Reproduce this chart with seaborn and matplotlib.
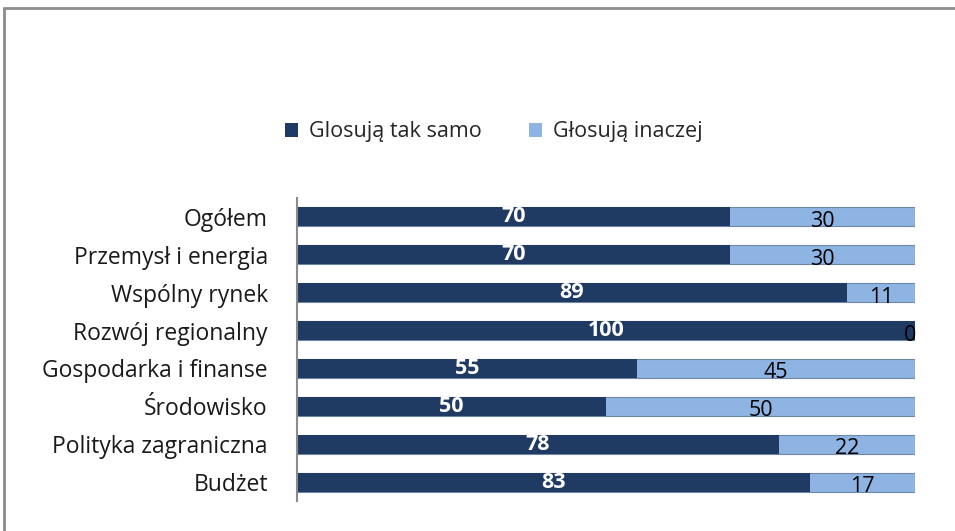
import matplotlib
matplotlib.use("Agg")
import matplotlib.pyplot as plt
import seaborn as sns
import pandas as pd
from matplotlib.lines import Line2D
from matplotlib.patches import Patch

categories = ["Ogółem", "Przemysł i energia", "Wspólny rynek", "Rozwój regionalny",
              "Gospodarka i finanse", "Środowisko", "Polityka zagraniczna", "Budżet"]
same = [70, 70, 89, 100, 55, 50, 78, 83]
diff = [30, 30, 11, 0, 45, 50, 22, 17]
series_names = ["Glosują tak samo", "Głosują inaczej"]

DARK = "#1F3B64"
LIGHT = "#8DB4E2"

sns.set_theme(style="white")
plt.rcParams["font.family"] = ["Open Sans", "DejaVu Sans"]

df = pd.DataFrame({"cat": categories, "same": same, "diff": diff})
df["total"] = df["same"] + df["diff"]

fig = plt.figure(figsize=(9.55, 5.31), dpi=100)
ax = fig.add_axes([297/955, 1-501/531, (915-297)/955, (501-198)/531])

sns.barplot(data=df, x="total", y="cat", color=LIGHT, saturation=1, width=0.5,
            orient="h", ax=ax, edgecolor="#6f87aa", linewidth=0.8)
sns.barplot(data=df, x="same", y="cat", color=DARK, saturation=1, width=0.5,
            orient="h", ax=ax, linewidth=0)

ax.set_xlim(0, 100)
ax.set_ylim(7.5, -0.5)
ax.set_xlabel("")
ax.set_ylabel("")
ax.set_xticks([])
for s in ["top", "right", "bottom"]:
    ax.spines[s].set_visible(False)
ax.spines["left"].set_color("#8c8c8c")
ax.spines["left"].set_linewidth(1.5)
ax.tick_params(axis="y", length=0, pad=21, labelsize=16.5, labelcolor="#1a1a1a")

for i, (s, d) in enumerate(zip(same, diff)):
    ax.text(s / 2, i, str(s), ha="center", va="center", color="white",
            fontsize=15.5, fontweight="bold")
    if d > 0:
        xd = s + d / 2
    else:
        xd = s - 0.8
    ax.text(xd, i + 0.12, str(d), ha="center", va="center", color="black",
            fontsize=15.5)

handles = [Patch(facecolor=DARK, edgecolor="none"), Patch(facecolor=LIGHT, edgecolor="none")]
fig.legend(handles, series_names, loc="center", bbox_to_anchor=(494/955, 1-132/531),
           ncol=2, frameon=False, fontsize=15.5, handlelength=0.6, handleheight=0.6,
           columnspacing=2.2, handletextpad=0.5)

# outer chart frame
fig.add_artist(Line2D([4/955, 4/955], [0, 1-8/531], transform=fig.transFigure,
                      color="#8c8c8c", linewidth=2))
fig.add_artist(Line2D([4/955, 1], [1-8/531, 1-8/531], transform=fig.transFigure,
                      color="#8c8c8c", linewidth=2))

fig.savefig("out.png", dpi=100, facecolor="white")
